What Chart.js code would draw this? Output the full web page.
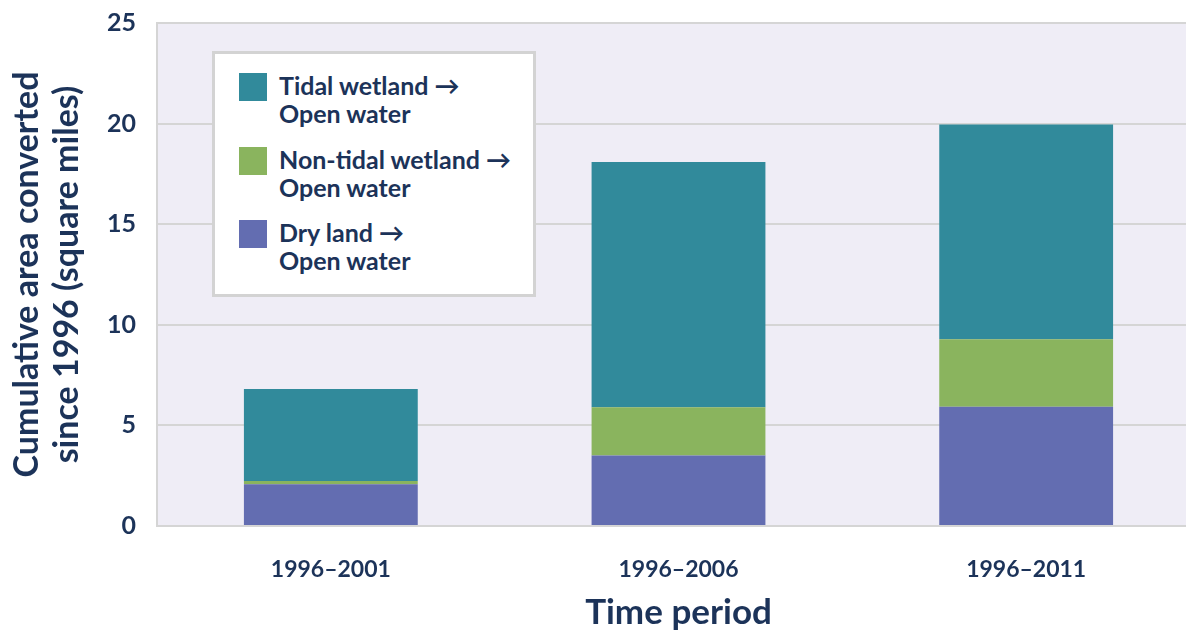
<!DOCTYPE html>
<html lang="en">
<head>
  <meta charset="UTF-8">
  <title>Cumulative area converted since 1996</title>
  <script src="https://cdn.jsdelivr.net/npm/chart.js"></script>
  <style>
    body {
      margin: 0;
      overflow: hidden;
      background: #fff;
      font-family: 'Lato', sans-serif;
    }
    .wrap {
      position: relative;
      width: 1200px;
      height: 637px;
    }
    #legend {
      position: absolute;
      left: 212px;
      top: 51px;
      width: 318px;
      height: 240px;
      border: 3px solid #d3d3d3;
      background: #fff;
      box-sizing: content-box;
      padding: 0;
    }
    .item {
      position: absolute;
      left: 24px;
      display: flex;
      align-items: flex-start;
    }
    .swatch {
      width: 28px;
      height: 28px;
      margin-right: 12px;
      flex: none;
    }
    .label {
      color: #1c3359;
      font-weight: 700;
      font-size: 25px;
      line-height: 28px;
      margin-top: -2px;
      white-space: nowrap;
    }
  </style>
</head>
<body>
  <div class="wrap">
    <canvas id="myChart" width="1200" height="637"></canvas>
    <div id="legend"></div>
  </div>

  <script>
    const periods = ['1996–2001', '1996–2006', '1996–2011'];
    const dryLand = [2.07, 3.51, 5.93];
    const nonTidal = [0.17, 2.39, 3.35];
    const tidal = [4.57, 12.19, 10.68];
    const yTicks = [0, 5, 10, 15, 20, 25];

    const navy = '#1c3359';

    const datasets = [
      { label: ['Dry land →', 'Open water'], data: dryLand, backgroundColor: '#636db1' },
      { label: ['Non-tidal wetland →', 'Open water'], data: nonTidal, backgroundColor: '#8ab45e' },
      { label: ['Tidal wetland →', 'Open water'], data: tidal, backgroundColor: '#318a9b' }
    ];

    // lavender plot background
    const plotBg = {
      id: 'plotBg',
      beforeDraw(chart) {
        const a = chart.chartArea;
        const ctx = chart.ctx;
        ctx.save();
        ctx.fillStyle = '#efedf6';
        ctx.fillRect(a.left, a.top, a.right - a.left, a.bottom - a.top);
        ctx.restore();
      }
    };

    const ctx = document.getElementById('myChart').getContext('2d');
    const chart = new Chart(ctx, {
      type: 'bar',
      data: {
        labels: periods,
        datasets: datasets.map(d => ({
          label: d.label.join(' '),
          data: d.data,
          backgroundColor: d.backgroundColor,
          borderWidth: 0,
          barPercentage: 0.5,
          categoryPercentage: 1.0
        }))
      },
      options: {
        responsive: false,
        animation: false,
        layout: { padding: { top: 23, right: 0, bottom: 0, left: 0 } },
        plugins: {
          legend: { display: false },
          tooltip: { enabled: false }
        },
        scales: {
          x: {
            stacked: true,
            grid: { display: false, drawTicks: false },
            border: { display: false },
            ticks: {
              color: navy,
              padding: 30,
              font: { family: 'Lato', weight: 'bold', size: 23 }
            },
            title: {
              display: true,
              text: 'Time period',
              color: navy,
              padding: { top: 0, bottom: 3 },
              font: { family: 'Lato', weight: 'bold', size: 35 }
            },
            afterFit(s) {
              s.height = 111;
              s.paddingLeft = 0;
              s.paddingRight = 0;
            }
          },
          y: {
            stacked: true,
            min: 0,
            max: 25,
            afterBuildTicks(s) { s.ticks = yTicks.map(v => ({ value: v })); },
            grid: { color: '#d5d5d5', lineWidth: 2, drawTicks: false },
            border: { display: true, color: '#d5d5d5', width: 2 },
            ticks: {
              color: navy,
              padding: 21,
              font: { family: 'Lato', weight: 'bold', size: 25 }
            },
            title: {
              display: true,
              text: ['Cumulative area converted', 'since 1996 (square miles)'],
              color: navy,
              padding: { top: 7, bottom: 0 },
              font: { family: 'Lato', weight: 'bold', size: 34, lineHeight: '40px' }
            },
            afterFit(s) {
              s.width = 157;
              s.paddingTop = 0;
              s.paddingBottom = 0;
            }
          }
        }
      },
      plugins: [plotBg]
    });

    // legend, top entry is the top of the stack
    const legend = document.getElementById('legend');
    datasets.slice().reverse().forEach((d, i) => {
      const item = document.createElement('div');
      item.className = 'item';
      item.style.top = (19 + i * 73.5) + 'px';
      const sw = document.createElement('div');
      sw.className = 'swatch';
      sw.style.background = d.backgroundColor;
      const lab = document.createElement('div');
      lab.className = 'label';
      lab.innerHTML = d.label.join('<br>');
      item.appendChild(sw);
      item.appendChild(lab);
      legend.appendChild(item);
    });
  </script>
</body>
</html>
